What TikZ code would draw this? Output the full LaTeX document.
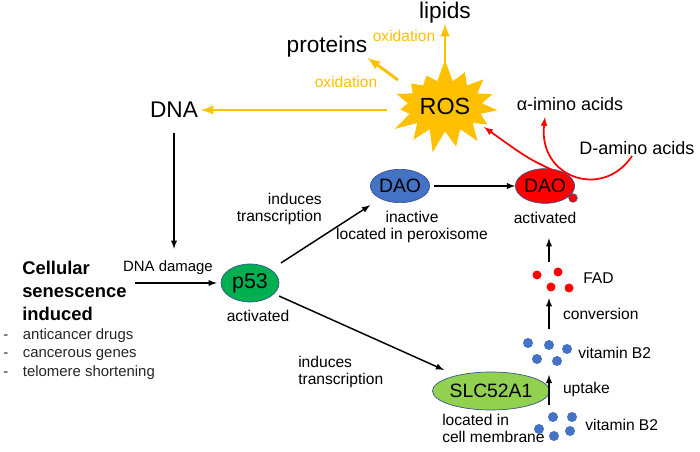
\documentclass[tikz,border=0pt]{standalone}
\usepackage{fontspec}
\setmainfont{Liberation Sans}
\usetikzlibrary{shapes,arrows,positioning}

\definecolor{rosorange}{HTML}{FFC000}
\definecolor{daoblue}{HTML}{4472C4}
\definecolor{edgeblue}{HTML}{2F528F}
\definecolor{p53green}{HTML}{00B050}
\definecolor{slcgreen}{HTML}{92D050}
\definecolor{fadred}{HTML}{FF0000}

\begin{document}
\begin{tikzpicture}[x=0.75pt, y=-0.75pt, >=latex,
    big/.style={font=\fontsize{17}{20}\selectfont, inner sep=0pt},
    note/.style={font=\fontsize{11.7}{12.8}\selectfont, inner sep=0pt},
    oxtext/.style={note, text=rosorange},
    enzyme/.style={ellipse, draw=edgeblue, line width=0.5pt, inner sep=0pt, font=\fontsize{14.5}{16}\selectfont},
    group/.style={rectangle, minimum width=30pt, inner sep=0pt},
    link/.style={->, line width=1.1pt},
    oxarrow/.style={->, line width=2.2pt, rosorange},
    redarrow/.style={->, line width=1.3pt, fadred}]

    \useasboundingbox (0,0) rectangle (700,452);

    % ROS and oxidation targets
    \node[starburst, fill=rosorange, starburst points=15, starburst point height=17pt,
        random starburst=7, minimum width=90pt, minimum height=72pt, inner sep=0pt,
        font=\fontsize{17.5}{20}\selectfont] (ros) at (445,106) {ROS};
    \node[big] (lipids) at (445,13) {lipids};
    \node[big] (proteins) at (327,47) {proteins};
    \node[big, inner sep=2pt] (dna) at (174,110) {DNA};
    \coordinate (rosnw) at (398,80);

    \draw[oxarrow] (445,62) -- (lipids.south);
    \draw[oxarrow] (rosnw) -- (proteins.south east);
    \draw[oxarrow] (387,110) -- (dna.east);
    \node[oxtext] (ox1) at (404,36) {oxidation};
    \node[oxtext] (ox2) at (346,82) {oxidation};

    % senescence and p53
    \node[font=\bfseries\fontsize{13.8}{17}\selectfont, align=left, anchor=west, inner sep=0pt] (senes) at (22,291) {Cellular\\senescence\\induced};
    \node[font=\fontsize{11.2}{13.9}\selectfont, text=black!85, anchor=north west, inner sep=0pt] (causes) at (3,326)
        {\begin{tabular}{@{}l@{\hspace{11pt}}l@{}}-&anticancer drugs\\-&cancerous genes\\-&telomere shortening\end{tabular}};
    \node[note, font=\fontsize{11.2}{13}\selectfont] (damage) at (168,268) {DNA damage};
    \node[enzyme, fill=p53green, minimum width=43.5pt, minimum height=28.5pt, font=\fontsize{16}{18}\selectfont] (p53) at (250,283) {p53};
    \node[note, below=6pt of p53, xshift=6pt] (p53act) {activated};

    \draw[link] (dna.south) ++(0,12) -- ++(0,116);
    \draw[link, shorten <=6pt, shorten >=3pt] (senes.east |- p53) -- (p53);

    % DAO
    \node[enzyme, fill=daoblue, minimum width=43.5pt, minimum height=25pt] (dao) at (400,186) {DAO};
    \node[note, align=center, below=6pt of dao, xshift=9pt] (daoloc) {inactive\\located in peroxisome};
    \node[enzyme, fill=fadred, minimum width=43.5pt, minimum height=26pt] (daoact) at (545,186) {DAO};
    \node[circle, fill=fadred, draw=edgeblue, line width=0.4pt, minimum size=6.5pt, inner sep=0pt] (fadsite) at (573,198) {};
    \node[note, below=6pt of daoact] (daoactlbl) {activated};

    \draw[link, shorten <=9pt, shorten >=9pt] (p53) -- (dao);
    \node[note, align=right, anchor=east] (trans1) at (322,209) {induces\\transcription};
    \draw[link] (dao.east) ++(4,0) -- (daoact.west);

    % amino acids
    \node[font=\fontsize{13.5}{16}\selectfont, inner sep=0pt] (aimino) at (570,104) {α-imino acids};
    \node[font=\fontsize{13.5}{16}\selectfont, inner sep=0pt] (damino) at (637,148) {D-amino acids};
    \coordinate (aiminotip) at (545,117);
    \coordinate (split) at (566,176);
    \coordinate (rostip) at (484,127);
    \draw[redarrow] (632,156) .. controls (603,200) and (538,178) .. (aiminotip);
    \draw[redarrow] (split) .. controls (530,160) .. (rostip);

    % SLC52A1
    \node[enzyme, fill=slcgreen, minimum width=77pt, minimum height=28.5pt] (slc) at (491,391) {SLC52A1};
    \node[note, align=left, anchor=north west] (slcloc) at (442,414) {located in\\cell membrane};
    \draw[link, shorten <=4pt, shorten >=10pt] (p53) -- (slc);
    \node[note, align=left, anchor=west] (trans2) at (298,372) {induces\\transcription};

    % vitamin B2 and FAD
    \node[group, minimum height=27pt] (fad) at (549,280) {};
    \node[group, minimum height=34pt] (vitmid) at (549,352) {};
    \node[group, minimum height=30pt] (vitlow) at (549,425) {};
    \foreach \x/\y in {537/275, 558/272, 551/287, 569/288}
        \fill[fadred] (\x,\y) circle (4.5);
    \foreach \x/\y in {528/343, 549/345, 567/349, 537/359, 557/361, 553/417, 572/417, 539/429, 554/436, 570/431}
        \fill[daoblue] (\x,\y) circle (5);
    \node[note, anchor=west] (fadlbl) at (583,278) {FAD};
    \node[note, anchor=west] (vitlbl1) at (578,353) {vitamin B2};
    \node[note, anchor=west] (vitlbl2) at (585,425) {vitamin B2};

    \draw[link] (vitlow) -- node[note, right=10pt] {uptake} (vitmid);
    \draw[link] (vitmid) -- node[note, right=10pt] {conversion} (fad);
    \draw[link, shorten >=11pt] (fad.north) -- (fad.north |- daoactlbl.south);

\end{tikzpicture}
\end{document}
